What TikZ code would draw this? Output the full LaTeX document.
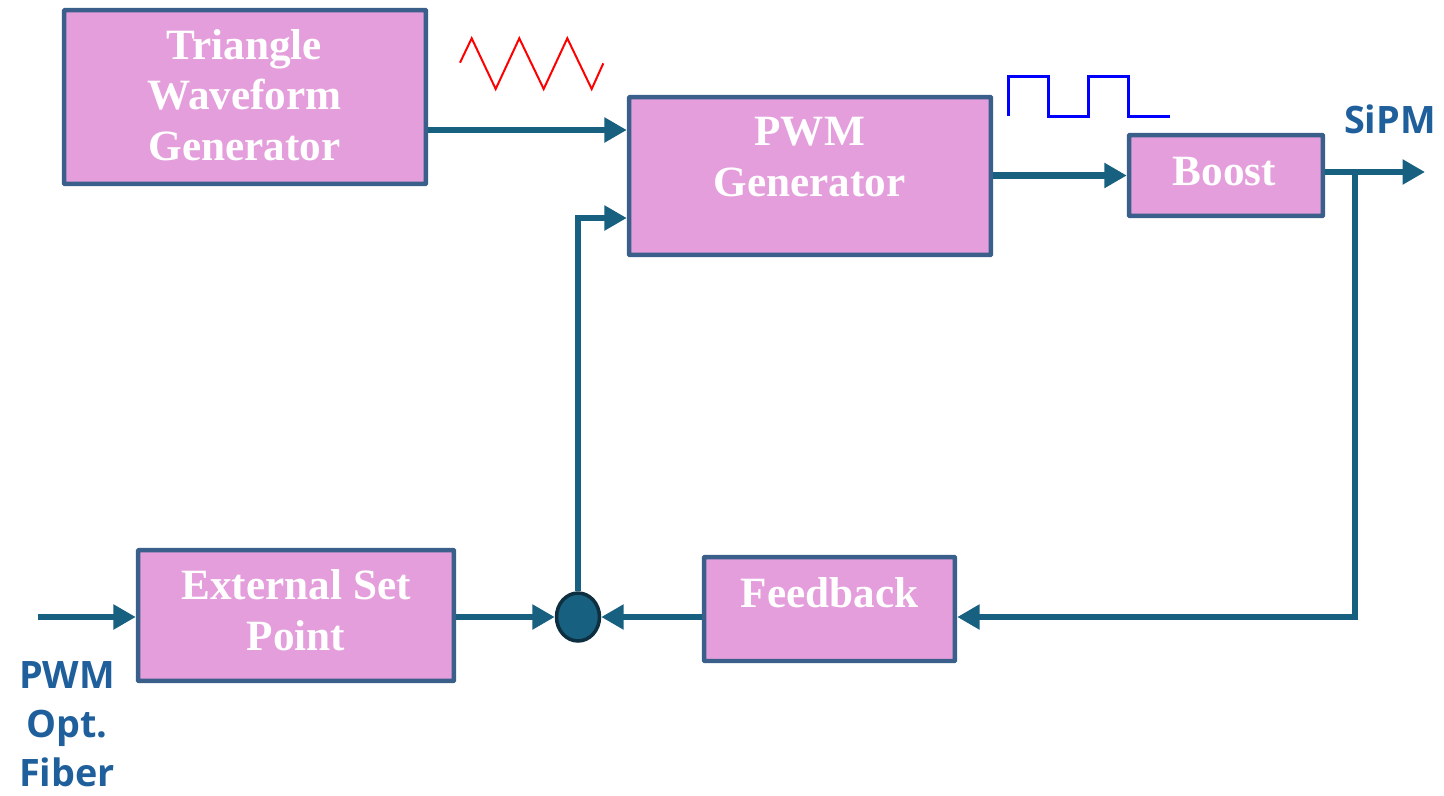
\documentclass[tikz,border=0pt]{standalone}
\usepackage{fontspec}
\newfontfamily\boxfontfam{Liberation Serif}
\newfontfamily\labfontfam{Open Sans}
\usetikzlibrary{arrows.meta,shapes.geometric}
\definecolor{boxfill}{HTML}{E49EDC}
\definecolor{boxline}{HTML}{3A5F8A}
\definecolor{arrowc}{HTML}{17607F}
\definecolor{labc}{HTML}{1F5F9C}
\definecolor{sumline}{HTML}{0E2F40}
\begin{document}
\begin{tikzpicture}[x=0.02cm,y=-0.02cm,
 blk/.style={draw=boxline, fill=boxfill, line width=0.09cm, rounded corners=0.5pt, inner sep=0pt},
 blktext/.style={text=white, font=\boxfontfam\bfseries\fontsize{24.6pt}{28.9pt}\selectfont, align=center, inner sep=0pt},
 lab/.style={text=labc, font=\labfontfam\bfseries\fontsize{21.5pt}{28pt}\selectfont, align=center, inner sep=0pt},
 arr/.style={draw=arrowc, line width=0.13cm, -{Triangle[length=0.45cm,width=0.48cm]}}]
\useasboundingbox (0,0) rectangle (1444,795);

% blocks
\node[blk, minimum width=7.24cm, minimum height=3.48cm] (tri) at (245,97) {};
\node[blk, minimum width=7.24cm, minimum height=3.16cm] (pw) at (810,176) {};
\node[blk, minimum width=3.88cm, minimum height=1.62cm] (bo) at (1226,175.5) {};
\node[blk, minimum width=6.32cm, minimum height=2.62cm] (esp) at (296,615.5) {};
\node[blk, minimum width=5.02cm, minimum height=2.08cm] (fb) at (829.5,609) {};
\node[draw=sumline, fill=arrowc, line width=0.07cm, ellipse, minimum width=0.86cm, minimum height=0.96cm, inner sep=0pt] (sum) at (578,617) {};

% block texts
\node[blktext] (tri-t) at (244.5,95.2) {Triangle\\Waveform\\Generator};
\node[blktext] (pw-t) at (809.7,156.7) {PWM\\Generator};
\node[blktext] (bo-t) at (1224.5,171.5) {Boost};
\node[blktext] (esp-t) at (296,610) {External Set\\Point};
\node[blktext] (fb-t) at (829.5,592.3) {Feedback};

% labels
\node[lab] (sipm) at (1390,119.7) {SiPM};
\node[lab] (pwmfib) at (67,724) {PWM\\Opt.\\Fiber};

% coordinates
\coordinate (in) at (38,617);
\coordinate (out) at (1425,172);
\coordinate (tap) at (1355,172);
\coordinate (lvA) at (0,130);
\coordinate (lvB) at (0,218);

% connectors
\draw[arr] (tri.east |- lvA) -- (pw.west |- lvA);
\draw[arr] (pw.east |- bo.west) -- (bo.west);
\draw[arr] (bo.east |- out) -- (out);
\draw[arr] (tap) |- (fb.east |- sum);
\draw[arr] (fb.west |- sum) -- (sum);
\draw[arr] (esp.east |- sum) -- (sum);
\draw[arr] (in) -- (esp.west |- sum);
\draw[arr] (sum) |- (pw.west |- lvB);

% waveforms
\draw[red, line width=0.04cm, line join=miter] (460,62.7) -- (471.7,38.3) -- (495.7,89) -- (519.3,38.3) -- (543.7,89) -- (567.3,38.3) -- (591.7,89) -- (603.3,63.3);
\draw[blue, line width=0.06cm] (1008.3,116) -- (1008.3,76) -- (1048.7,76) -- (1048.7,116) -- (1088.3,116) -- (1088.3,76) -- (1128.3,76) -- (1128.3,116) -- (1170,116);
\end{tikzpicture}
\end{document}
